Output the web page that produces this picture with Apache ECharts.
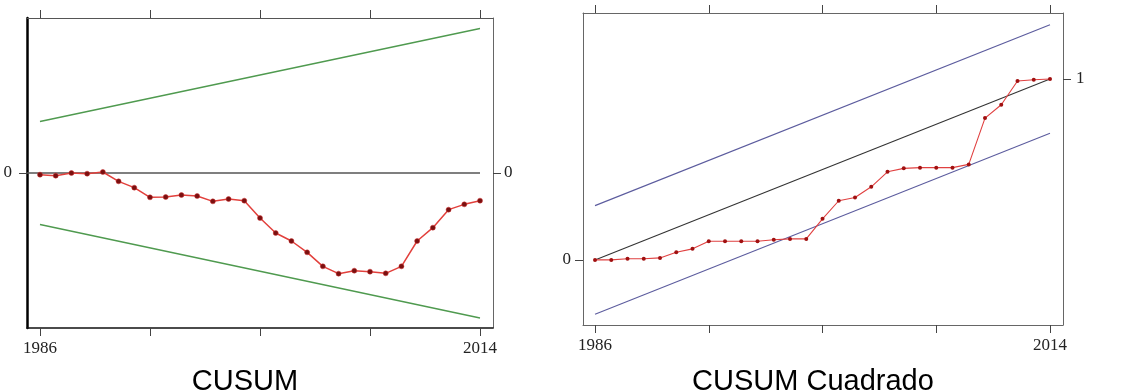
<!DOCTYPE html>
<html>
<head>
<meta charset="utf-8">
<script src="https://cdn.jsdelivr.net/npm/echarts@6/dist/echarts.min.js"></script>
<style>
html,body{margin:0;padding:0;background:#fff;}
#c{width:1135px;height:391px;}
</style>
</head>
<body>
<div id="c"></div>
<script>
// ---- data ----
const years = [1986,1987,1988,1989,1990,1991,1992,1993,1994,1995,1996,1997,1998,1999,2000,
               2001,2002,2003,2004,2005,2006,2007,2008,2009,2010,2011,2012,2013,2014];
const cusum = [-0.33,-0.53,0.0,-0.13,0.2,-1.67,-2.93,-4.87,-4.8,-4.4,-4.6,-5.67,-5.2,-5.53,-9.0,
               -12.0,-13.6,-15.87,-18.67,-20.13,-19.53,-19.73,-20.07,-18.67,-13.6,-10.93,-7.33,-6.27,-5.53];
const boundYears = [1986, 2014];
const cusumUpper = [10.3, 28.9];
const cusumLower = [-10.3, -29.0];
const cusumSq = [0,0,0.006,0.006,0.011,0.042,0.061,0.103,0.103,0.103,0.103,0.111,0.116,0.116,0.227,
                 0.327,0.345,0.404,0.487,0.506,0.51,0.51,0.51,0.528,0.784,0.858,0.989,0.996,1.0];
const sqUpper = [0.30, 1.30];
const sqMid = [0, 1];
const sqLower = [-0.30, 0.70];
const xTicks = [1986, 1993, 2000, 2007, 2014];
const xLabels = [1986, 2014];
const titles = ['CUSUM', 'CUSUM Cuadrado'];

const pair = (xs, ys) => xs.map((x, i) => [x, ys[i]]);
const serif = 'Liberation Serif';

const L = {min: 1985.173, max: 2014.827};
const R = {min: 1985.26, max: 2014.8};

function xAxisDef(grid, ext, pos, color, width, labels) {
  return {
    type: 'value', gridIndex: grid, position: pos, min: ext.min, max: ext.max,
    splitLine: {show: false},
    axisLine: {show: true, onZero: false, lineStyle: {color: color, width: width}},
    axisTick: {show: true, length: 8, customValues: xTicks, lineStyle: {color: '#444', width: 1}},
    axisLabel: {show: labels, customValues: xLabels, margin: 12, color: '#222',
                fontFamily: serif, fontSize: 17, formatter: v => String(Math.round(v))}
  };
}
function yAxisDef(grid, min, max, pos, color, width, vals, margin) {
  return {
    type: 'value', gridIndex: grid, position: pos, min: min, max: max,
    splitLine: {show: false},
    axisLine: {show: true, onZero: false, lineStyle: {color: color, width: width}},
    axisTick: {show: true, length: 8, customValues: vals, lineStyle: {color: '#444', width: 1}},
    axisLabel: {show: true, customValues: vals, margin: margin, color: '#222',
                fontFamily: serif, fontSize: 17, formatter: v => String(v)}
  };
}

const chart = echarts.init(document.getElementById('c'), null, {renderer: 'canvas'});
chart.setOption({
  animation: false,
  backgroundColor: '#fff',
  title: [
    {text: titles[0], left: 240, top: 362, textAlign: 'center',
     textStyle: {fontFamily: 'Liberation Sans', fontSize: 29, fontWeight: 'normal', color: '#000'}},
    {text: titles[1], left: 808, top: 362, textAlign: 'center',
     textStyle: {fontFamily: 'Liberation Sans', fontSize: 29, fontWeight: 'normal', color: '#000'}}
  ],
  grid: [
    {left: 27, top: 18, width: 466, height: 310},
    {left: 583, top: 13, width: 480, height: 312}
  ],
  xAxis: [
    xAxisDef(0, L, 'bottom', '#111', 1.5, true),
    xAxisDef(0, L, 'top', '#555', 1, false),
    xAxisDef(1, R, 'bottom', '#666', 1, true),
    xAxisDef(1, R, 'top', '#666', 1, false)
  ],
  yAxis: [
    yAxisDef(0, -31, 31, 'left', '#000', 2.5, [0], 15),
    yAxisDef(0, -31, 31, 'right', '#666', 1, [0], 11),
    yAxisDef(1, -0.36, 1.365, 'left', '#666', 1, [0], 12),
    yAxisDef(1, -0.36, 1.365, 'right', '#666', 1, [1], 13)
  ],
  series: [
    {type: 'line', xAxisIndex: 0, yAxisIndex: 0, data: [[L.min, 0], [2014, 0]],
     symbol: 'none', lineStyle: {color: '#555', width: 1.5}},
    {type: 'line', xAxisIndex: 0, yAxisIndex: 0, data: pair(boundYears, cusumUpper),
     symbol: 'none', lineStyle: {color: '#4f9a4f', width: 1.3}},
    {type: 'line', xAxisIndex: 0, yAxisIndex: 0, data: pair(boundYears, cusumLower),
     symbol: 'none', lineStyle: {color: '#4f9a4f', width: 1.3}},
    {type: 'line', xAxisIndex: 0, yAxisIndex: 0, data: pair(years, cusum),
     symbol: 'circle', symbolSize: 5, itemStyle: {color: '#7a1010', borderColor: '#d03030', borderWidth: 0.5},
     lineStyle: {color: '#e2403c', width: 1.5}},
    {type: 'line', xAxisIndex: 2, yAxisIndex: 2, data: pair(boundYears, sqUpper),
     symbol: 'none', lineStyle: {color: '#5c5c9e', width: 1.1}},
    {type: 'line', xAxisIndex: 2, yAxisIndex: 2, data: pair(boundYears, sqMid),
     symbol: 'none', lineStyle: {color: '#333', width: 1.1}},
    {type: 'line', xAxisIndex: 2, yAxisIndex: 2, data: pair(boundYears, sqLower),
     symbol: 'none', lineStyle: {color: '#5c5c9e', width: 1.1}},
    {type: 'line', xAxisIndex: 2, yAxisIndex: 2, data: pair(years, cusumSq),
     symbol: 'circle', symbolSize: 4, itemStyle: {color: '#a01010'},
     lineStyle: {color: '#e04040', width: 1.1}}
  ]
});
</script>
</body>
</html>
